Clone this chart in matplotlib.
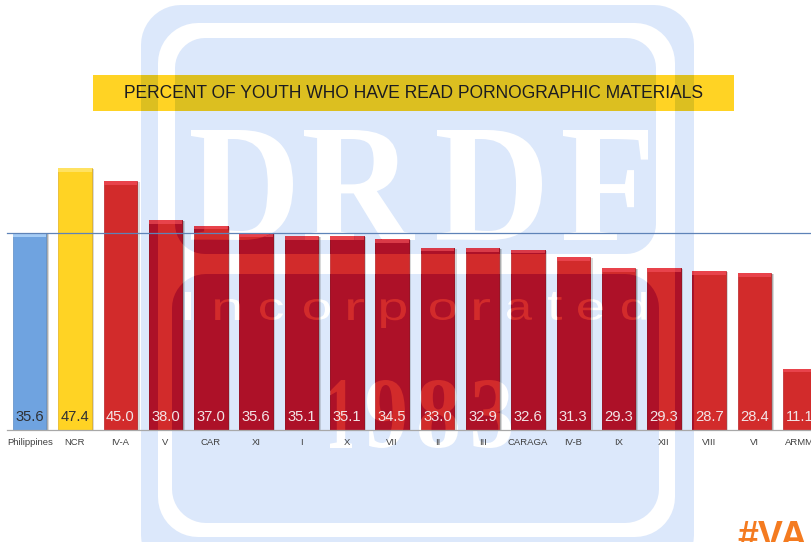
import numpy as np
import matplotlib
matplotlib.use("Agg")
import matplotlib.pyplot as plt
from matplotlib.patches import PathPatch, Rectangle
from matplotlib.path import Path
from matplotlib.textpath import TextPath
from matplotlib.font_manager import FontProperties
from matplotlib.transforms import IdentityTransform, Affine2D

regions = ["Philippines", "NCR", "IV-A", "V", "CAR", "XI", "I", "X", "VII", "II", "III",
           "CARAGA", "IV-B", "IX", "XII", "VIII", "VI", "ARMM"]
values = [35.6, 47.4, 45.0, 38.0, 37.0, 35.6, 35.1, 35.1, 34.5, 33.0, 32.9,
          32.6, 31.3, 29.3, 29.3, 28.7, 28.4, 11.1]
title = "PERCENT OF YOUTH WHO HAVE READ PORNOGRAPHIC MATERIALS"
national = values[0]

W, H = 812, 542
BASE_Y, PX_PER_UNIT = 430, 5.527
X0, DX, BAR_W = 29.7, 45.3, 0.74

plt.rcParams["font.family"] = ["Liberation Sans", "DejaVu Sans"]
fig = plt.figure(figsize=(W / 100, H / 100), dpi=100, facecolor="white")
ax = fig.add_axes([0, (H - BASE_Y) / H, 1, BASE_Y / H])
ax.set_xlim(-X0 / DX, (W - X0) / DX)
ax.set_ylim(0, BASE_Y / PX_PER_UNIT)
ax.patch.set_alpha(0)
ID = IdentityTransform()


def rrect(x0, y0, x1, y1, r, ccw=True):
    """Rounded rectangle in top-down pixel coordinates, returned y-up."""
    pts = []
    for cx, cy, a0 in [(x1 - r, y1 - r, 0), (x0 + r, y1 - r, 90), (x0 + r, y0 + r, 180), (x1 - r, y0 + r, 270)]:
        t = np.radians(np.linspace(a0, a0 + 90, 12))
        pts += list(zip(cx + r * np.cos(t), cy + r * np.sin(t)))
    pts = np.array(pts)
    pts[:, 1] = H - pts[:, 1]
    if ccw:
        pts = pts[::-1]
    pts = np.vstack([pts, pts[0]])
    codes = [Path.MOVETO] + [Path.LINETO] * (len(pts) - 2) + [Path.CLOSEPOLY]
    return Path(pts, codes)


def glyph(ch, x0, y0, x1, y1, fp):
    p = TextPath((0, 0), ch, size=100, prop=fp)
    e = p.get_extents()
    tr = Affine2D().translate(-e.x0, -e.y0).scale((x1 - x0) / e.width, (y1 - y0) / e.height).translate(x0, H - y1)
    return tr.transform_path(p)


serif = FontProperties(family="Liberation Serif", weight="bold")
sans = FontProperties(family="Liberation Sans")
parts = [
    rrect(141, 5, 694, 575, 40, True),       # blue frame
    rrect(158, 23, 675, 537, 40, False),     # white ring, outer edge
    rrect(175, 38, 656, 254, 30, True),      # upper panel
    rrect(172, 274, 659, 523, 34, True),     # lower panel
]
for ch, a, b in [("D", 191, 293), ("R", 304, 415), ("D", 437, 542), ("F", 563, 648)]:
    parts.append(glyph(ch, a, 130, b, 240, serif))
for ch, a, b, t, bt in [("I", 185, 191, 292, 320), ("n", 215, 240, 299, 320), ("c", 260, 283, 299, 320),
                        ("o", 304, 330, 299, 320), ("r", 348, 364, 299, 320), ("p", 381, 406, 299, 328),
                        ("o", 430, 456, 299, 320), ("r", 474, 490, 299, 320), ("a", 507, 532, 299, 320),
                        ("t", 548, 562, 292, 320), ("e", 578, 603, 299, 320), ("d", 622, 646, 292, 320)]:
    parts.append(glyph(ch, a, t, b, bt, sans))
for ch, a, b in [("1", 330, 352), ("9", 367, 405), ("8", 419, 458), ("3", 473, 511)]:
    parts.append(glyph(ch, a, 380, b, 448, serif))
for t, b in [(357, 366), (460, 469)]:
    pts = np.array([[304, H - t], [304, H - b], [528, H - b], [528, H - t], [304, H - t]], float)
    parts.append(Path(pts, [Path.MOVETO, Path.LINETO, Path.LINETO, Path.LINETO, Path.CLOSEPOLY]))
mark = Path.make_compound_path(*parts)

ax.add_patch(PathPatch(mark, transform=ID, facecolor="#DCE8FB", edgecolor="none", zorder=0.5, clip_on=False))

# title band: plain, then a darker copy limited to the watermark
band = dict(transform=ID, edgecolor="none", zorder=6)
ax.add_patch(Rectangle((93, H - 111), 641, 36, facecolor="#FFD324", clip_on=False, **band))
dark_band = Rectangle((93, H - 111), 641, 36, facecolor="#DCBF20", **band)
ax.add_patch(dark_band)
dark_band.set_clip_path(mark, ID)
ax.text(413, H - 93, title, transform=ID, fontsize=12.65, color="#1C1C20", ha="center", va="center", zorder=7)

x = np.arange(len(values))
vals = np.array(values)
body = ["#6FA3E0", "#FFD324"] + ["#D22B2B"] * (len(vals) - 2)
edge = ["#5C8CC4", "#E3B01C"] + ["#B82226"] * (len(vals) - 2)
cap = ["#A5CCF5", "#FFE262"] + ["#E8434B"] * (len(vals) - 2)
bev = 0.65

# soft shadow right of each bar
ax.bar(x + 2.5 / DX, vals - 0.2, BAR_W, color="#555555", alpha=0.22, zorder=2, linewidth=0)
ax.bar(x + 1.3 / DX, vals - 0.1, BAR_W, color="#444444", alpha=0.3, zorder=2, linewidth=0)
ax.bar(x, vals, BAR_W, color=body, edgecolor=edge, linewidth=0.5, zorder=3)
ax.bar(x, bev, BAR_W, bottom=vals - bev, color=cap, linewidth=0, zorder=3.1)
dark_body = ax.bar(x, vals, BAR_W, color="#AD1128", edgecolor="#8E0E22", linewidth=0.5, zorder=3.2)
dark_cap = ax.bar(x, bev, BAR_W, bottom=vals - bev, color="#D93A48", linewidth=0, zorder=3.3)
for container in (dark_body, dark_cap):
    for i, p in enumerate(container.patches):
        if i < 2:
            p.set_visible(False)
        p.set_clip_path(mark, ID)

ax.axhline(national, color="#5E83B8", linewidth=0.9, zorder=5, xmin=7 / W)

for i, v in enumerate(values):
    ax.text(i, 1.0, f"{v:.1f}", ha="center", va="bottom", fontsize=10.6, zorder=6,
            color="#2F3033" if i < 2 else "#F2E4E6")

ax.set_xticks(x)
ax.set_xticklabels(regions, fontsize=6.8, color="#404040")
ax.tick_params(axis="x", length=0, pad=5.5)
ax.set_yticks([])
for s in ("top", "left", "right"):
    ax.spines[s].set_visible(False)
ax.spines["bottom"].set_color("#A8A8A8")
ax.spines["bottom"].set_linewidth(0.9)
ax.spines["bottom"].set_bounds(ax.get_xlim()[0] + 7 / DX, ax.get_xlim()[1])
ax.spines["bottom"].set_zorder(4)

fig.text(737 / W, 1 - 520 / H, "#VA", fontsize=27, fontweight="bold", color="#F47B20", ha="left", va="top")

fig.savefig("out.png", dpi=100, facecolor="white")
